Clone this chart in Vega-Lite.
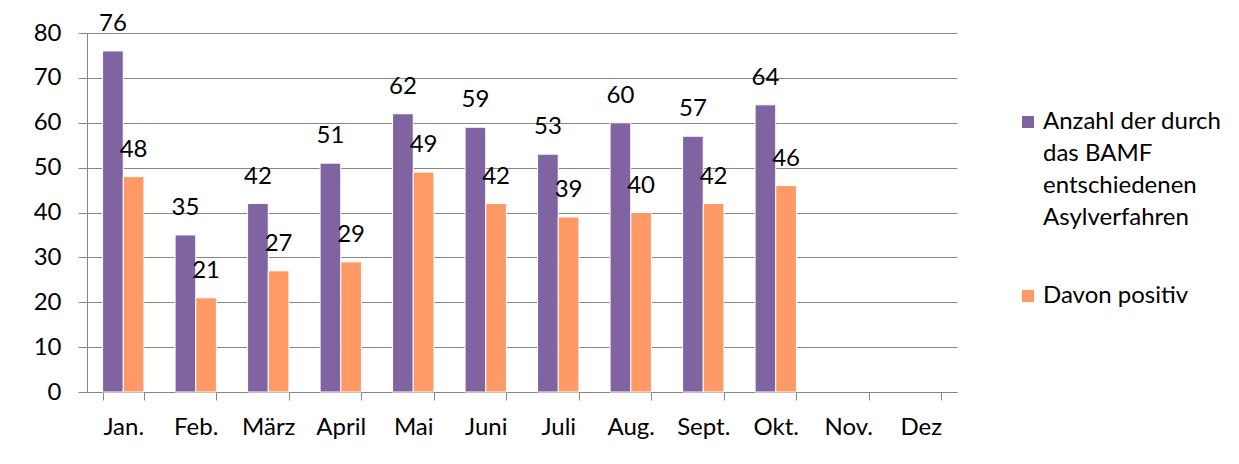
{
  "$schema": "https://vega.github.io/schema/vega-lite/v6.json",
  "width": 870,
  "height": 359,
  "autosize": {"type": "none"},
  "padding": {"left": 87, "top": 33, "right": 282, "bottom": 72},
  "background": "white",
  "config": {"view": {"stroke": null}, "font": "Lato", "style": {"guide-label": {"lineHeight": 32}}},
  "data": {
    "values": [
      {"month": "Jan.", "series": "Anzahl der durch das BAMF entschiedenen Asylverfahren", "value": 76},
      {"month": "Jan.", "series": "Davon positiv", "value": 48},
      {"month": "Feb.", "series": "Anzahl der durch das BAMF entschiedenen Asylverfahren", "value": 35},
      {"month": "Feb.", "series": "Davon positiv", "value": 21},
      {"month": "März", "series": "Anzahl der durch das BAMF entschiedenen Asylverfahren", "value": 42},
      {"month": "März", "series": "Davon positiv", "value": 27},
      {"month": "April", "series": "Anzahl der durch das BAMF entschiedenen Asylverfahren", "value": 51},
      {"month": "April", "series": "Davon positiv", "value": 29},
      {"month": "Mai", "series": "Anzahl der durch das BAMF entschiedenen Asylverfahren", "value": 62},
      {"month": "Mai", "series": "Davon positiv", "value": 49},
      {"month": "Juni", "series": "Anzahl der durch das BAMF entschiedenen Asylverfahren", "value": 59},
      {"month": "Juni", "series": "Davon positiv", "value": 42},
      {"month": "Juli", "series": "Anzahl der durch das BAMF entschiedenen Asylverfahren", "value": 53},
      {"month": "Juli", "series": "Davon positiv", "value": 39},
      {"month": "Aug.", "series": "Anzahl der durch das BAMF entschiedenen Asylverfahren", "value": 60},
      {"month": "Aug.", "series": "Davon positiv", "value": 40},
      {"month": "Sept.", "series": "Anzahl der durch das BAMF entschiedenen Asylverfahren", "value": 57},
      {"month": "Sept.", "series": "Davon positiv", "value": 42},
      {"month": "Okt.", "series": "Anzahl der durch das BAMF entschiedenen Asylverfahren", "value": 64},
      {"month": "Okt.", "series": "Davon positiv", "value": 46}
    ]
  },
  "encoding": {
    "x": {
      "field": "month",
      "type": "nominal",
      "scale": {
        "domain": ["Jan.", "Feb.", "März", "April", "Mai", "Juni", "Juli", "Aug.", "Sept.", "Okt.", "Nov.", "Dez"],
        "paddingInner": 0.43,
        "paddingOuter": 0.215
      },
      "axis": {
        "title": null,
        "labelAngle": 0,
        "labelFontSize": 24,
        "labelColor": "#000000",
        "labelPadding": 15,
        "tickBand": "extent",
        "tickSize": 8,
        "tickColor": "#868686",
        "domainColor": "#868686",
        "grid": false
      }
    },
    "xOffset": {
      "field": "series",
      "type": "nominal",
      "scale": {"domain": ["Anzahl der durch das BAMF entschiedenen Asylverfahren", "Davon positiv"], "paddingInner": 0, "paddingOuter": 0}
    },
    "y": {
      "field": "value",
      "type": "quantitative",
      "scale": {"domain": [0, 80]},
      "axis": {
        "title": null,
        "values": [0, 10, 20, 30, 40, 50, 60, 70, 80],
        "labelFontSize": 24,
        "labelColor": "#000000",
        "labelPadding": 17,
        "tickSize": 9,
        "tickColor": "#868686",
        "domainColor": "#868686",
        "grid": true,
        "gridColor": "#868686",
        "gridOpacity": 1
      }
    }
  },
  "layer": [
    {
      "mark": {"type": "bar", "stroke": "white", "strokeWidth": 1},
      "encoding": {
        "color": {
          "field": "series",
          "type": "nominal",
          "scale": {
            "domain": ["Anzahl der durch das BAMF entschiedenen Asylverfahren", "Davon positiv"],
            "range": ["#8064A2", "#FF9966"]
          },
          "legend": {
            "title": null,
            "orient": "none",
            "legendX": 929,
            "legendY": 77,
            "padding": 0,
            "symbolType": "square",
            "symbolSize": 144,
            "symbolStrokeWidth": 0,
            "symbolOpacity": 1,
            "labelFontSize": 24,
            "labelColor": "#000000",
            "labelOffset": 3,
            "labelLimit": 300,
            "rowPadding": 54,
            "labelExpr": "datum.label == 'Davon positiv' ? datum.label : ['Anzahl der durch', 'das BAMF', 'entschiedenen', 'Asylverfahren']"
          }
        }
      }
    },
    {
      "mark": {"type": "text", "dy": -27, "baseline": "middle", "fontSize": 24, "color": "#000000"},
      "encoding": {"text": {"field": "value", "type": "quantitative"}}
    }
  ]
}
